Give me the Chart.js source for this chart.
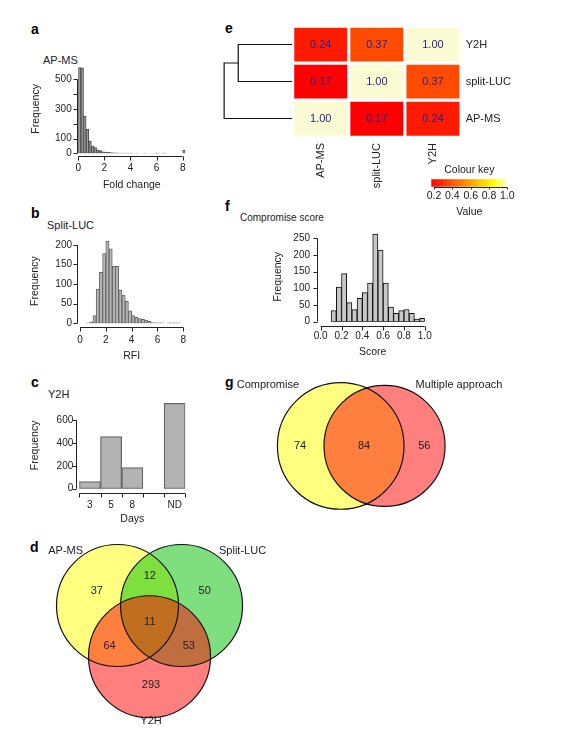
<!DOCTYPE html>
<html>
<head>
<meta charset="utf-8">
<script src="https://cdn.jsdelivr.net/npm/chart.js@4.4.0/dist/chart.umd.min.js"></script>
<style>
  body { margin: 0; background: #fff; }
  #fig { position: relative; width: 588px; height: 733px; font-family: 'Liberation Sans', Arial, sans-serif; color: #222; }
  canvas { position: absolute; }
  .lab { position: absolute; white-space: nowrap; font-size: 11px; line-height: 13px; }
  .pl { position: absolute; font-weight: bold; font-size: 14px; line-height: 16px; color: #000; }
</style>
</head>
<body>
<div id="fig">
  <div class="pl" style="left:31px;top:21px">a</div>
  <div class="pl" style="left:31px;top:205px">b</div>
  <div class="pl" style="left:31px;top:374px">c</div>
  <div class="pl" style="left:30px;top:539px">d</div>
  <div class="pl" style="left:225px;top:20px">e</div>
  <div class="pl" style="left:225px;top:198px">f</div>
  <div class="pl" style="left:225px;top:374px">g</div>

  <div class="lab" style="left:43px;top:54px">AP-MS</div>
  <div class="lab" style="left:47px;top:219px">Split-LUC</div>
  <div class="lab" style="left:48px;top:388px">Y2H</div>
  <div class="lab" style="left:240px;top:212px;font-size:10px;line-height:12px">Compromise score</div>

  <canvas id="chA" style="left:20px;top:50px" width="180" height="145"></canvas>
  <canvas id="chB" style="left:20px;top:225px" width="180" height="140"></canvas>
  <canvas id="chC" style="left:20px;top:390px" width="180" height="140"></canvas>
  <canvas id="chF" style="left:260px;top:215px" width="180" height="145"></canvas>
  <canvas id="chDendro" style="left:222px;top:26px" width="70" height="111"></canvas>
  <canvas id="chHeat" style="left:200px;top:10px" width="330" height="190"></canvas>
  <canvas id="chKey" style="left:400px;top:160px" width="140" height="60"></canvas>
  <canvas id="chVennD" style="left:40px;top:535px" width="230" height="195"></canvas>
  <canvas id="chVennG" style="left:230px;top:370px" width="285" height="150"></canvas>
</div>

<script>
// ---- data ----
// a: AP-MS fold change histogram, bins of 0.2 starting at 0
var apmsBinWidth = 0.2
var apmsCounts = [580, 578, 250, 162, 82, 49, 38, 22, 18, 10, 8, 6, 5, 3, 3, 2, 2, 1, 1, 2,
                  1, 0, 1, 0, 0, 1, 0, 0, 0, 1, 1, 0, 1, 1, 0, 0, 0, 0, 0, 0, 22]
// b: split-LUC RFI histogram, bins of 0.25 starting at 0
var lucBinWidth = 0.25
var lucCounts = [0, 0, 1, 4, 20, 87, 130, 178, 210, 190, 145, 145, 84, 72, 56, 32,
                 20, 15, 12, 10, 8, 5, 2, 1, 1, 1, 0, 1, 1, 1, 1, 0]
// c: Y2H days
var y2hDays = ['3', '5', '8', '', 'ND']
var y2hCounts = [63, 457, 186, 0, 749]
// f: compromise score histogram, bins of 0.05 starting at 0
var scoreBinWidth = 0.05
var scoreCounts = [0, 0, 33, 104, 144, 57, 36, 70, 87, 116, 263, 215, 116, 44, 25, 33, 36, 25, 8, 10]
// e: overlap matrix
var methods = ['AP-MS', 'split-LUC', 'Y2H']
var overlap = [
  [1.00, 0.17, 0.24],   // AP-MS
  [0.17, 1.00, 0.37],   // split-LUC
  [0.24, 0.37, 1.00]    // Y2H
]
var dendroHeights = [0.63, 0.795]   // split-LUC+Y2H merge, root
var keyTicks = [0.2, 0.4, 0.6, 0.8, 1.0]
// d: three-way venn (A only, A&B, B only, all, A&C, B&C, C only)
var vennDSets = ['AP-MS', 'Split-LUC', 'Y2H']
var vennDCounts = [37, 12, 50, 11, 64, 53, 293]
// g: two-way venn (A only, both, B only)
var vennGSets = ['Compromise', 'Multiple approach']
var vennGCounts = [74, 84, 56]

// ---- defaults ----
Chart.defaults.font.family = "'Liberation Sans', Arial, sans-serif"
Chart.defaults.font.size = 10
Chart.defaults.color = '#222'
Chart.defaults.animation = false
Chart.defaults.responsive = false
Chart.defaults.plugins.legend.display = false
Chart.defaults.plugins.tooltip.enabled = false

// R style axes: line only from first to last tick, detached from the plot
var rAxes = {
  id: 'rAxes',
  afterDraw: function (chart, args, o) {
    var ctx = chart.ctx, ca = chart.chartArea, tick = o.tick == null ? 4 : o.tick
    ctx.save()
    ctx.strokeStyle = '#222'
    ctx.lineWidth = 1
    ctx.beginPath()
    if (o.x) {
      var s = chart.scales.x, px
      if (o.x.edges) {
        var n = s.ticks.length
        px = []
        for (var i = 0; i <= n; i++) px.push(s.left + i * s.width / n)
      } else {
        px = s.ticks.map(function (t) { return s.getPixelForValue(t.value) })
      }
      var y0 = Math.round(ca.bottom + o.x.gap) + 0.5
      ctx.moveTo(px[0], y0); ctx.lineTo(px[px.length - 1], y0)
      px.forEach(function (p) { p = Math.round(p) + 0.5; ctx.moveTo(p, y0); ctx.lineTo(p, y0 + tick) })
    }
    if (o.y) {
      var sy = chart.scales.y
      var py = sy.ticks.map(function (t) { return sy.getPixelForValue(t.value) })
      var x0 = Math.round(ca.left - o.y.gap) + 0.5
      ctx.moveTo(x0, py[0]); ctx.lineTo(x0, py[py.length - 1])
      py.forEach(function (p) { p = Math.round(p) + 0.5; ctx.moveTo(x0, p); ctx.lineTo(x0 - tick, p) })
    }
    ctx.stroke()
    ctx.restore()
  }
}

function fixedTicks(vals) {
  return function (s) { s.ticks = vals.map(function (v) { return { value: v } }) }
}

function hist(id, c) {
  var pts = c.counts.map(function (v, i) { return { x: c.start + (i + 0.5) * c.bw, y: v } })
  return new Chart(document.getElementById(id), {
    type: 'bar',
    data: { datasets: [{
      data: pts, backgroundColor: c.fill, borderColor: c.stroke, borderWidth: 1,
      borderSkipped: false, barPercentage: 1, categoryPercentage: 1
    }] },
    options: {
      layout: { padding: c.pad },
      scales: {
        x: {
          type: 'linear', offset: false, min: c.start, max: c.start + c.counts.length * c.bw,
          grid: { display: false, drawTicks: false }, border: { display: false },
          afterBuildTicks: fixedTicks(c.xTicks),
          afterFit: function (s) { s.height = c.xH },
          ticks: { padding: c.xPad, autoSkip: false, maxRotation: 0, callback: c.xFmt || function (v) { return v } },
          title: { display: true, text: c.xTitle, font: { size: 10.5 }, padding: { top: 0, bottom: c.xTitlePad } }
        },
        y: {
          min: 0, max: c.yMax,
          grid: { display: false, drawTicks: false }, border: { display: false },
          afterBuildTicks: fixedTicks(c.yTicks),
          afterFit: function (s) { s.width = c.yW },
          ticks: { padding: c.yPad, autoSkip: false, callback: function (v) { return c.yShow.indexOf(v) >= 0 ? v : '' } },
          title: { display: true, text: 'Frequency', font: { size: 10.5 }, padding: { top: c.yTitlePad, bottom: 0 } }
        }
      },
      plugins: { rAxes: { x: { gap: c.xGap }, y: { gap: c.yGap }, tick: 4 } }
    },
    plugins: [rAxes]
  })
}

// a
hist('chA', {
  counts: apmsCounts, start: 0, bw: apmsBinWidth, fill: '#9c9c9c', stroke: '#4a4a4a',
  pad: { left: 0, top: 14.5, right: 14.7, bottom: 0 }, yMax: 600, yW: 58.3, xH: 41.7,
  xTicks: [0, 2, 4, 6, 8], yTicks: [0, 100, 200, 300, 400, 500], yShow: [0, 100, 300, 500],
  xPad: 9, yPad: 6.6, xTitlePad: 3.7, yTitlePad: 9.7, xGap: 2.7, yGap: 1.3, xTitle: 'Fold change'
})
// b
hist('chB', {
  counts: lucCounts, start: 0, bw: lucBinWidth, fill: '#b6b6b6', stroke: '#666',
  pad: { left: 0, top: 10.6, right: 16.7, bottom: 0 }, yMax: 215, yW: 60, xH: 41.7,
  xTicks: [0, 2, 4, 6, 8], yTicks: [0, 50, 100, 150, 200], yShow: [0, 50, 100, 150, 200],
  xPad: 10.7, yPad: 8, xTitlePad: 2.7, yTitlePad: 8.7, xGap: 3.4, yGap: 3, xTitle: 'RFI'
})
// f
hist('chF', {
  counts: scoreCounts, start: 0, bw: scoreBinWidth, fill: '#c8c8c8', stroke: '#111',
  pad: { left: 0, top: 11.3, right: 14, bottom: 0 }, yMax: 270, yW: 60.7, xH: 38.3,
  xTicks: [0, 0.2, 0.4, 0.6, 0.8, 1.0], yTicks: [0, 50, 100, 150, 200, 250], yShow: [0, 50, 100, 150, 200, 250],
  xFmt: function (v) { return v.toFixed(1) },
  xPad: 8.3, yPad: 10.7, xTitlePad: 2, yTitlePad: 12, xGap: 4.3, yGap: 3.4, xTitle: 'Score'
})

// c
new Chart(document.getElementById('chC'), {
  type: 'bar',
  data: { labels: y2hDays, datasets: [{
    data: y2hCounts, backgroundColor: '#b3b3b3', borderColor: '#666', borderWidth: 1.3,
    borderSkipped: false, barPercentage: 1, categoryPercentage: 1
  }] },
  options: {
    layout: { padding: { left: 0, top: 10, right: 14.7, bottom: 0 } },
    scales: {
      x: {
        grid: { display: false, drawTicks: false }, border: { display: false },
        afterFit: function (s) { s.height = 41.3 },
        ticks: { padding: 10.3, autoSkip: false, maxRotation: 0 },
        title: { display: true, text: 'Days', font: { size: 10.5 }, padding: { top: 0, bottom: 4.7 } }
      },
      y: {
        min: 0, max: 760,
        grid: { display: false, drawTicks: false }, border: { display: false },
        afterBuildTicks: fixedTicks([0, 200, 400, 600]),
        afterFit: function (s) { s.width = 59.3 },
        ticks: { padding: 6, autoSkip: false },
        title: { display: true, text: 'Frequency', font: { size: 10.5 }, padding: { top: 8.7, bottom: 0 } }
      }
    },
    plugins: { rAxes: { x: { gap: 4.6, edges: true }, y: { gap: 3.3 }, tick: 4 } }
  },
  plugins: [rAxes]
})

// e: heat colours
function heat(v) {
  var stops = [[0.17, [255, 0, 0]], [0.85, [255, 255, 0]], [1.0, [252, 252, 212]]]
  for (var i = 1; i < stops.length; i++) {
    if (v <= stops[i][0]) {
      var a = stops[i - 1], b = stops[i], t = (v - a[0]) / (b[0] - a[0])
      t = Math.max(0, Math.min(1, t))
      var c = a[1].map(function (x, k) { return Math.round(x + (b[1][k] - x) * t) })
      return 'rgb(' + c.join(',') + ')'
    }
  }
  return 'rgb(252,252,212)'
}

var cellText = {
  id: 'cellText',
  afterDatasetsDraw: function (chart) {
    var ctx = chart.ctx
    ctx.save()
    ctx.font = "11px 'Liberation Sans', Arial, sans-serif"
    ctx.fillStyle = '#24248c'
    ctx.textAlign = 'center'
    ctx.textBaseline = 'middle'
    chart.data.datasets.forEach(function (ds, r) {
      chart.getDatasetMeta(r).data.forEach(function (el, c) {
        ctx.fillText(overlap[r][c].toFixed(2), el.x, (el.y + el.base) / 2 + 0.5)
      })
    })
    ctx.restore()
  }
}

new Chart(document.getElementById('chHeat'), {
  type: 'bar',
  data: {
    labels: methods,
    datasets: methods.map(function (rowName, r) {
      return {
        data: methods.map(function () { return [r + 0.045, r + 0.955] }),
        backgroundColor: methods.map(function (colName, c) { return heat(overlap[r][c]) }),
        borderWidth: 0
      }
    })
  },
  options: {
    layout: { padding: { left: 92.7, top: 16, right: 0, bottom: 0 } },
    datasets: { bar: { grouped: false, barPercentage: 0.945, categoryPercentage: 1 } },
    scales: {
      x: {
        grid: { display: false, drawTicks: false }, border: { display: false },
        afterFit: function (s) { s.height = 62.7 },
        ticks: { padding: 5.7, autoSkip: false, minRotation: 90, maxRotation: 90, font: { size: 11 } }
      },
      y: {
        position: 'right', min: 0, max: 3,
        grid: { display: false, drawTicks: false }, border: { display: false },
        afterBuildTicks: fixedTicks([0.5, 1.5, 2.5]),
        afterFit: function (s) { s.width = 69 },
        ticks: { padding: 4.7, autoSkip: false, font: { size: 11 },
                 callback: function (v) { return methods[Math.floor(v)] } }
      }
    }
  },
  plugins: [cellText]
})

// e: dendrogram (rows: 0 AP-MS, 1 split-LUC, 2 Y2H)
var h1 = dendroHeights[0], h2 = dendroHeights[1]
new Chart(document.getElementById('chDendro'), {
  type: 'scatter',
  data: { datasets: [
    { data: [{ x: 0, y: 2.5 }, { x: h1, y: 2.5 }, { x: h1, y: 1.5 }, { x: 0, y: 1.5 }],
      showLine: true, borderColor: '#111', backgroundColor: '#111', borderWidth: 1.2, pointRadius: 0, clip: false },
    { data: [{ x: h1, y: 2.0 }, { x: h2, y: 2.0 }, { x: h2, y: 0.5 }, { x: 0, y: 0.5 }],
      showLine: true, borderColor: '#111', backgroundColor: '#111', borderWidth: 1.2, pointRadius: 0, clip: false }
  ] },
  options: {
    layout: { padding: 0, autoPadding: false },
    scales: {
      x: { display: false, type: 'linear', reverse: true, min: 0, max: 0.82 },
      y: { display: false, min: 0, max: 3 }
    }
  }
})

// e: colour key
var keySteps = 20, keyMin = 0.17, keyMax = 1.0
var keyPts = [], keyCols = []
for (var k = 0; k < keySteps; k++) {
  var v = keyMin + (k + 0.5) * (keyMax - keyMin) / keySteps
  keyPts.push({ x: v, y: 1 })
  keyCols.push(heat(v))
}
new Chart(document.getElementById('chKey'), {
  type: 'bar',
  data: { datasets: [{ data: keyPts, backgroundColor: keyCols, borderWidth: 0, barPercentage: 1, categoryPercentage: 1 }] },
  options: {
    layout: { padding: { left: 31.3, right: 32.7, top: 0, bottom: 0 } },
    scales: {
      x: {
        type: 'linear', offset: false, min: keyMin, max: keyMax,
        grid: { display: false, drawTicks: false }, border: { display: false },
        afterBuildTicks: fixedTicks(keyTicks),
        afterFit: function (s) { s.height = 33.3 },
        ticks: { padding: 3, autoSkip: false, maxRotation: 0, font: { size: 10.5 }, callback: function (v) { return v.toFixed(1) } },
        title: { display: true, text: 'Value', font: { size: 10.5 }, padding: { top: 0, bottom: 1.7 } }
      },
      y: { display: false, min: 0, max: 1 }
    },
    plugins: {
      title: { display: true, text: 'Colour key', font: { size: 10.5, weight: 'normal' }, color: '#222', padding: { top: 3.7, bottom: 3 } },
      rAxes: { x: { gap: 0 }, tick: 2 }
    }
  },
  plugins: [rAxes]
})

// venn diagrams
var vennText = {
  id: 'vennText',
  afterDatasetsDraw: function (chart, args, o) {
    var ctx = chart.ctx, sx = chart.scales.x, sy = chart.scales.y
    ctx.save()
    ctx.fillStyle = '#222'
    ctx.textAlign = 'center'
    ctx.textBaseline = 'middle'
    o.items.forEach(function (it) {
      ctx.font = (it.size || 11) + "px 'Liberation Sans', Arial, sans-serif"
      ctx.fillText(it.text, sx.getPixelForValue(it.x), sy.getPixelForValue(it.y))
    })
    ctx.restore()
  }
}

function venn(id, circles, fills, items, range) {
  var canvas = document.getElementById(id)
  // pixels per unit of the x scale (chart area = whole canvas)
  var ppu = canvas.width / (range[1] - range[0])
  var sets = circles.map(function (c, i) {
    return {
      data: [{ x: c.x, y: c.y, r: c.r * ppu }], backgroundColor: fills[i], borderWidth: 0,
      order: circles.length - i, clip: false
    }
  })
  sets.push({
    data: circles.map(function (c) { return { x: c.x, y: c.y, r: c.r * ppu } }),
    backgroundColor: 'rgba(0,0,0,0)', borderColor: '#111', borderWidth: 1.2,
    order: 0, clip: false
  })
  return new Chart(canvas, {
    type: 'bubble',
    data: { datasets: sets },
    options: {
      layout: { padding: 0, autoPadding: false },
      scales: {
        x: { display: false, min: range[0], max: range[1] },
        y: { display: false, min: range[2], max: range[3] }
      },
      plugins: { vennText: { items: items } }
    },
    plugins: [vennText]
  })
}

// d layout (unit = circle radius)
var dCircles = [{ x: 0, y: 0, r: 1 }, { x: 1.05, y: 0, r: 1 }, { x: 0.525, y: -0.84, r: 1 }]
var dCountPos = [[-0.34, 0.24], [0.53, 0.48], [1.43, 0.24], [0.53, -0.27], [-0.13, -0.66], [1.17, -0.66], [0.55, -1.30]]
var dSetPos = [[-0.85, 0.9], [2.05, 0.9], [0.55, -1.9]]
var dItems = vennDCounts.map(function (n, i) { return { text: String(n), x: dCountPos[i][0], y: dCountPos[i][1] } })
  .concat(vennDSets.map(function (s, i) { return { text: s, x: dSetPos[i][0], y: dSetPos[i][1] } }))
venn('chVennD', dCircles,
  ['rgba(255,255,0,0.5)', 'rgba(0,192,0,0.5)', 'rgba(255,0,0,0.5)'],
  dItems, [-1.2705, 2.50, -2.041, 1.156])

// g layout
var gCircles = [{ x: 0, y: 0, r: 1 }, { x: 0.692, y: 0, r: 0.956 }]
var gCountPos = [[-0.643, 0], [0.368, 0], [1.32, 0]]
var gSetPos = [[-1.15, 0.96], [1.869, 0.96]]
var gItems = vennGCounts.map(function (n, i) { return { text: String(n), x: gCountPos[i][0], y: gCountPos[i][1] } })
  .concat(vennGSets.map(function (s, i) { return { text: s, x: gSetPos[i][0], y: gSetPos[i][1] } }))
venn('chVennG', gCircles,
  ['rgba(255,255,0,0.5)', 'rgba(255,0,0,0.5)'],
  gItems, [-1.749, 2.753, -1.17, 1.2])
</script>
</body>
</html>
